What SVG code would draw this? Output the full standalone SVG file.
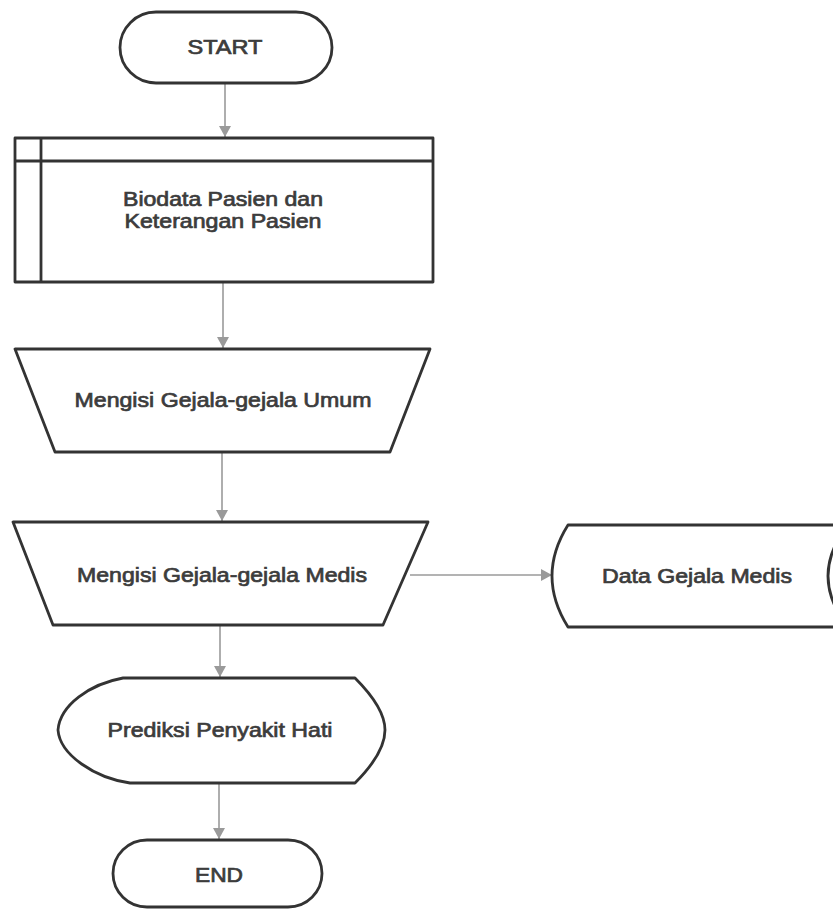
<svg xmlns="http://www.w3.org/2000/svg" width="833" height="912" viewBox="0 0 833 912">
<defs>
<marker id="arr" markerUnits="userSpaceOnUse" markerWidth="12" markerHeight="12" refX="11" refY="6" orient="auto">
<path d="M0,0 L11,6 L0,12 Z" fill="#9a9a9a"/>
</marker>
<style>
.shape{fill:#fff;stroke:#333;stroke-width:2.8;stroke-linejoin:round}
.lbl{font-family:"Liberation Sans",Arial,sans-serif;font-size:20px;fill:#3c3c3c;stroke:#3c3c3c;stroke-width:0.7;text-anchor:middle}
.conn{stroke:#9a9a9a;stroke-width:1.6;fill:none;marker-end:url(#arr)}
</style>
</defs>
<rect width="833" height="912" fill="#fff"/>
<g id="connectors">
<line class="conn" x1="225" y1="84" x2="225" y2="137"/>
<line class="conn" x1="223" y1="283" x2="223" y2="348"/>
<line class="conn" x1="222" y1="453" x2="222" y2="521"/>
<line class="conn" x1="410" y1="575" x2="552" y2="575"/>
<line class="conn" x1="220" y1="626" x2="220" y2="677"/>
<line class="conn" x1="219" y1="784" x2="219" y2="839"/>
</g>
<g id="start">
<rect class="shape" x="120" y="12" width="212" height="71" rx="36" ry="35.5"/>
<text class="lbl" x="225" y="54" textLength="75" lengthAdjust="spacingAndGlyphs">START</text>
</g>
<g id="biodata">
<rect class="shape" x="15" y="138" width="418" height="144"/>
<line x1="41" y1="138" x2="41" y2="282" stroke="#333" stroke-width="2.8"/>
<line x1="15" y1="161" x2="433" y2="161" stroke="#333" stroke-width="2.8"/>
<text class="lbl" x="223" y="206" textLength="200" lengthAdjust="spacingAndGlyphs">Biodata Pasien dan</text>
<text class="lbl" x="223" y="228" textLength="197" lengthAdjust="spacingAndGlyphs">Keterangan Pasien</text>
</g>
<g id="umum">
<path class="shape" d="M15 349 L430 349 L390 452 L55 452 Z"/>
<text class="lbl" x="223" y="407" textLength="297" lengthAdjust="spacingAndGlyphs">Mengisi Gejala-gejala Umum</text>
</g>
<g id="medis">
<path class="shape" d="M13 522 L428 522 L383 625 L53 625 Z"/>
<text class="lbl" x="222" y="582" textLength="290" lengthAdjust="spacingAndGlyphs">Mengisi Gejala-gejala Medis</text>
</g>
<g id="data">
<path class="shape" d="M568 525 L848 525 Q808 576 848 627 L568 627 Q536 576 568 525 Z"/>
<text class="lbl" x="697" y="583" textLength="190" lengthAdjust="spacingAndGlyphs">Data Gejala Medis</text>
</g>
<g id="prediksi">
<path class="shape" d="M123 678 L355 678 C372 695 385 713 385 730 C385 748 372 766 355 783 L130 783 C95 778 60 755 58 730 C60 705 90 684 123 678 Z"/>
<text class="lbl" x="220" y="737" textLength="225" lengthAdjust="spacingAndGlyphs">Prediksi Penyakit Hati</text>
</g>
<g id="end">
<rect class="shape" x="113" y="840" width="209" height="67" rx="34" ry="33.5"/>
<text class="lbl" x="219" y="882" textLength="48" lengthAdjust="spacingAndGlyphs">END</text>
</g>
</svg>
